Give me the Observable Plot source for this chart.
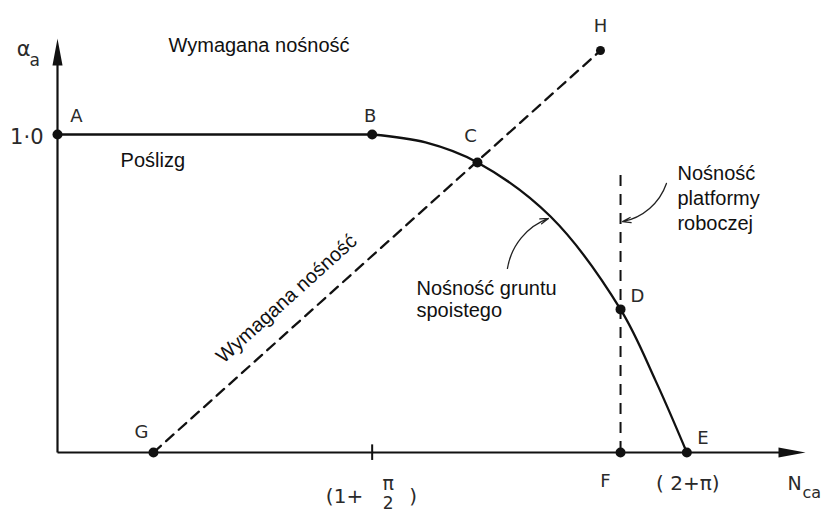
<!DOCTYPE html>
<html><head><meta charset="utf-8">
<script src="https://cdn.jsdelivr.net/npm/d3@7"></script>
<script src="https://cdn.jsdelivr.net/npm/@observablehq/plot@0.6"></script>
<style>html,body{margin:0;padding:0;background:#fff;} svg{display:block;}</style>
</head><body><div id="chart"></div>
<script>
// ---- data (N_ca on x, alpha_a on y) ----
const B = 1 + Math.PI / 2;   // (1 + pi/2)
const E = 2 + Math.PI;       // (2 + pi)
const pointNames = ["A", "B", "C", "D", "E", "F", "G", "H"];
const pointX = [0, B, 3.431, 4.60, E, 4.60, 0.784, 4.436];
const pointY = [1, 1, 0.912, 0.45, 0, 0, 0, 1.264];
// sliding limit A-B (flat)
const slideX = [0, B];
const slideY = [1, 1];
// capacity of cohesive soil: curve B-C-D-E
const curveX = [B, 3.007, 3.431, 4.028, 4.60, 4.886, E];
const curveY = [1, 0.975, 0.912, 0.742, 0.45, 0.226, 0];
// required capacity G -> H (dashed)
const requiredX = [0.784, 4.436];
const requiredY = [0, 1.264];
// working platform capacity (vertical dashed at F)
const platformX = 4.60;
const platformTop = 0.887;
const yTickLabel = "1·0";
const xAxisEnd = 6.111;
const yAxisEnd = 1.302;

const tech = "DejaVu Sans";
const sans = "Liberation Sans, Arial, sans-serif";
const ink = "#111";

// custom elongated filled arrowhead symbol (tip at origin, pointing up)
const arrowHead = { draw(ctx) { ctx.moveTo(0, 0); ctx.lineTo(-5, 27); ctx.lineTo(5, 27); ctx.closePath(); } };

const labelOffset = { A: [19, -18], B: [-2, -18], C: [-7, -26], D: [17, -13], E: [16, -14], F: [-15, 29], G: [-12, -20], H: [0, -24] };

const techText = (s, x, y, o) => Plot.text([s], Object.assign({ x: [x], y: [y], text: d => d, fontFamily: tech, fontSize: 18, fill: "#2a2a2a" }, o));
const sansText = (s, x, y, o) => Plot.text([s], Object.assign({ x: [x], y: [y], text: d => d, fontFamily: sans, fontSize: 20, fill: ink }, o));

const marks = [
  // axes
  Plot.link([0], { x1: 0, y1: 0, x2: xAxisEnd - 0.1, y2: 0, stroke: ink, strokeWidth: 2.2 }),
  Plot.link([0], { x1: 0, y1: 0, x2: 0, y2: yAxisEnd - 0.05, stroke: ink, strokeWidth: 2.2 }),
  Plot.dot([0], { x: [xAxisEnd], y: [0], symbol: arrowHead, rotate: 90, fill: ink, stroke: "none" }),
  Plot.dot([0], { x: [0], y: [yAxisEnd], symbol: arrowHead, fill: ink, stroke: "none" }),
  // tick at (1 + pi/2)
  Plot.ruleX([B], { y1: -0.025, y2: 0.024, stroke: ink, strokeWidth: 2 }),
  // lines
  Plot.line(slideX.map((x, i) => ({ x, y: slideY[i] })), { x: "x", y: "y", stroke: ink, strokeWidth: 2.3 }),
  Plot.line(curveX.map((x, i) => ({ x, y: curveY[i] })), { x: "x", y: "y", curve: "catmull-rom", stroke: ink, strokeWidth: 2.3 }),
  Plot.line(requiredX.map((x, i) => ({ x, y: requiredY[i] })), { x: "x", y: "y", stroke: ink, strokeWidth: 2.3, strokeDasharray: "10,7" }),
  Plot.ruleX([platformX], { y1: 0, y2: platformTop, stroke: ink, strokeWidth: 2, strokeDasharray: "11,8" }),
  // leaders
  Plot.arrow([0], { x1: 4.975, y1: 0.846, x2: 4.616, y2: 0.726, bend: 30, headLength: 10, headAngle: 35, stroke: "#222", strokeWidth: 1.3 }),
  Plot.arrow([0], { x1: 3.676, y1: 0.579, x2: 4.011, y2: 0.736, bend: 30, headLength: 10, headAngle: 35, stroke: "#222", strokeWidth: 1.3 }),
  // points
  Plot.dot(pointNames.filter(n => n !== "H"), { x: d => pointX[pointNames.indexOf(d)], y: d => pointY[pointNames.indexOf(d)], r: 5, fill: ink, stroke: "none" }),
  Plot.dot(["H"], { x: d => pointX[pointNames.indexOf(d)], y: d => pointY[pointNames.indexOf(d)], r: 4.5, fill: ink, stroke: "none" }),
  // point letters
  ...pointNames.map((n, i) => techText(n, pointX[i], pointY[i], { dx: labelOffset[n][0], dy: labelOffset[n][1] })),
  // y tick label
  techText(yTickLabel, 0, 1, { textAnchor: "end", dx: -14, dy: 3, fontSize: 21 }),
  // axis titles
  techText("α", 0, yAxisEnd, { textAnchor: "end", dx: -27, dy: 11, fontSize: 21 }),
  techText("a", 0, yAxisEnd, { textAnchor: "start", dx: -28, dy: 22, fontSize: 17 }),
  techText("N", xAxisEnd, 0, { textAnchor: "start", dx: -18, dy: 31, fontSize: 19 }),
  techText("ca", xAxisEnd, 0, { textAnchor: "start", dx: -3, dy: 40, fontSize: 16 }),
  // x tick labels
  techText("(1+", B, 0, { textAnchor: "end", dx: -9, dy: 44, fontSize: 20 }),
  techText("π", B, 0, { dx: 16, dy: 31, fontSize: 19 }),
  techText("2", B, 0, { dx: 16, dy: 51, fontSize: 17 }),
  techText(")", B, 0, { dx: 41, dy: 44, fontSize: 20 }),
  techText("( 2+π)", E, 0, { dx: 1, dy: 31, fontSize: 20 }),
  // annotations
  sansText("Wymagana nośność", 0.907, 1.28, { textAnchor: "start" }),
  sansText("Poślizg", 0.515, 0.918, { textAnchor: "start" }),
  sansText("Wymagana nośność", 1.871, 0.484, { rotate: -42 }),
  sansText("Nośność gruntu\nspoistego", 2.933, 0.544, { textAnchor: "start", lineAnchor: "top", lineHeight: 1.1 }),
  sansText("Nośność\nplatformy\nroboczej", 5.065, 0.912, { textAnchor: "start", lineAnchor: "top", lineHeight: 1.25 })
];

const chart = Plot.plot({
  width: 838,
  height: 512,
  margin: 0,
  x: { domain: [0, xAxisEnd], range: [57, 57 + 122.4 * xAxisEnd], axis: null },
  y: { domain: [0, 1], range: [452, 134], axis: null },
  style: { background: "white" },
  marks
});
document.getElementById("chart").appendChild(chart);
</script>
</body></html>
